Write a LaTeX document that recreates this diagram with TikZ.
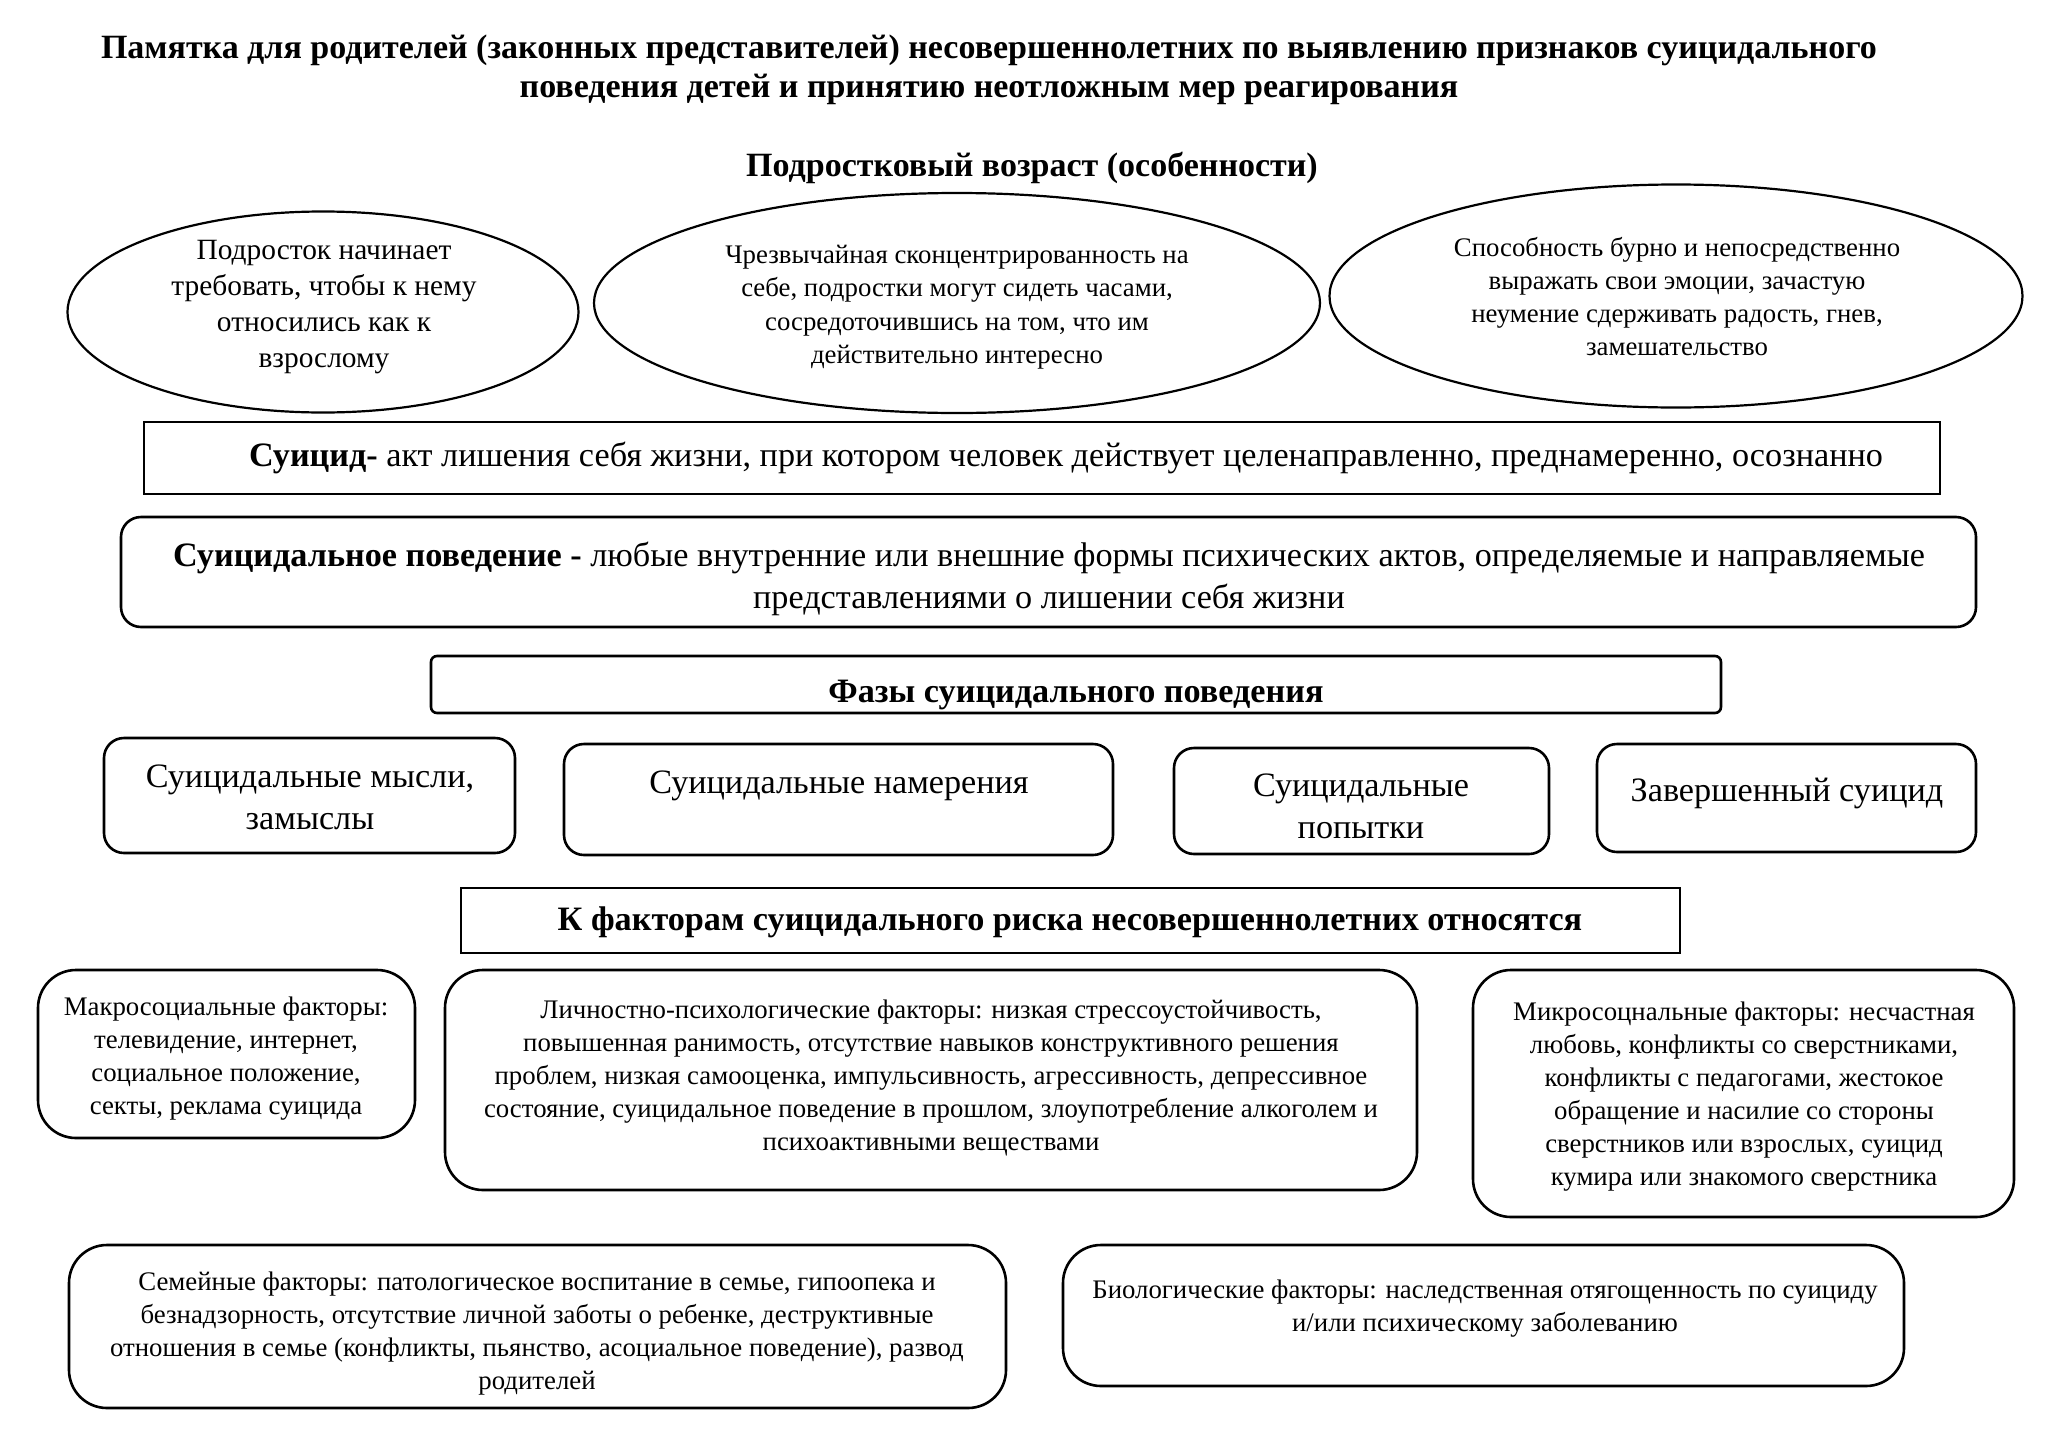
\documentclass[tikz,border=0pt]{standalone}
\usepackage{fontspec}
\setmainfont{Liberation Serif}
\usetikzlibrary{shapes.geometric}
\begin{document}
\begin{tikzpicture}[x=1pt,y=-1pt,
  every node/.style={inner sep=0pt, outer sep=0pt},
  txt/.style={align=center},
  ttl/.style={align=center, font=\fontsize{34}{39}\selectfont\bfseries},
  ell/.style={draw, ellipse, line width=2.2pt},
  sbox/.style={draw, line width=2.6pt},
  rbox/.style={draw, line width=2.6pt, rounded corners=20pt},
  fbox/.style={draw, line width=2.6pt, rounded corners=38pt},
  big/.style={align=center, font=\fontsize{34.2}{42}\selectfont},
  bigb/.style={align=center, font=\fontsize{34.2}{42}\selectfont\bfseries},
  mid/.style={align=center, font=\fontsize{26.8}{33}\selectfont},
]
\useasboundingbox (0,0) rectangle (2048,1448);
\fill[white] (0,0) rectangle (2048,1448);

% Title
\node[ttl] (title) at (989,70) {Памятка для родителей (законных представителей) несовершеннолетних по выявлению признаков суицидального\\поведения детей и принятию неотложным мер реагирования};
\node[ttl] (age) at (1032,168) {Подростковый возраст (особенности)};

% Ellipses
\node[ell, minimum width=511pt, minimum height=201pt] (e1) at (323,312) {};
\node[ell, minimum width=726pt, minimum height=220pt] (e2) at (957,303) {};
\node[ell, minimum width=693pt, minimum height=223pt] (e3) at (1676,296) {};
\node[txt, font=\fontsize{29.4}{36}\selectfont] (e1t) at (324,307) {Подросток начинает\\требовать, чтобы к нему\\относились как к\\взрослому};
\node[txt, font=\fontsize{26.8}{33.5}\selectfont] (e2t) at (957,307) {Чрезвычайная сконцентрированность на\\себе, подростки могут сидеть часами,\\сосредоточившись на том, что им\\действительно интересно};
\node[txt, font=\fontsize{26.8}{33}\selectfont] (e3t) at (1677,297) {Способность бурно и непосредственно\\выражать свои эмоции, зачастую\\неумение сдерживать радость, гнев,\\замешательство};

% Definitions
\node[sbox, minimum width=1796pt, minimum height=72pt] (suic) at (1042,458) {};
\node[big] (suict) at (1066,458) {\textbf{Суицид-} акт лишения себя жизни, при котором человек действует целенаправленно, преднамеренно, осознанно};
\node[rbox, minimum width=1855pt, minimum height=110pt] (beh) at (1048.5,572) {};
\node[big] (beht) at (1049,579) {\textbf{Суицидальное поведение -} любые внутренние или внешние формы психических актов, определяемые и направляемые\\представлениями о лишении себя жизни};

% Phases
\node[sbox, rounded corners=6pt, minimum width=1290pt, minimum height=57pt] (ph) at (1076,684.5) {};
\node[bigb] (pht) at (1076,695) {Фазы суицидального поведения};

\node[rbox, minimum width=411pt, minimum height=115pt] (p1) at (309.5,795.5) {};
\node[rbox, minimum width=549pt, minimum height=111pt] (p2) at (838.5,799.5) {};
\node[rbox, minimum width=375pt, minimum height=106pt] (p3) at (1361.5,801) {};
\node[rbox, minimum width=379pt, minimum height=108pt] (p4) at (1786.5,798) {};
\node[big] (p1t) at (310,797) {Суицидальные мысли,\\замыслы};
\node[big] (p2t) at (839,786) {Суицидальные намерения};
\node[big] (p3t) at (1361,806) {Суицидальные\\попытки};
\node[big] (p4t) at (1787,793) {Завершенный суицид};

% Risk factors
\node[sbox, minimum width=1219pt, minimum height=65pt] (rf) at (1070.5,920.5) {};
\node[bigb] (rft) at (1070,922) {К факторам суицидального риска несовершеннолетних относятся};

\node[fbox, minimum width=377pt, minimum height=168pt] (f1) at (226.5,1054) {};
\node[fbox, minimum width=972pt, minimum height=220pt] (f2) at (931,1080) {};
\node[fbox, minimum width=541pt, minimum height=247pt] (f3) at (1743.5,1093.5) {};
\node[fbox, minimum width=937pt, minimum height=163pt] (f4) at (537.5,1326.5) {};
\node[fbox, minimum width=841pt, minimum height=141pt] (f5) at (1483.5,1315.5) {};

\node[mid] (f1t) at (226,1059) {Макросоциальные факторы:\\телевидение, интернет,\\социальное положение,\\секты, реклама суицида};
\node[mid] (f2t) at (931,1078) {Личностно-психологические факторы: низкая стрессоустойчивость,\\повышенная ранимость, отсутствие навыков конструктивного решения\\проблем, низкая самооценка, импульсивность, агрессивность, депрессивное\\состояние, суицидальное поведение в прошлом, злоупотребление алкоголем и\\психоактивными веществами};
\node[mid] (f3t) at (1744,1097) {Микросоцнальные факторы: несчастная\\любовь, конфликты со сверстниками,\\конфликты с педагогами, жестокое\\обращение и насилие со стороны\\сверстников или взрослых, суицид\\кумира или знакомого сверстника};
\node[mid] (f4t) at (537,1334) {Семейные факторы: патологическое воспитание в семье, гипоопека и\\безнадзорность, отсутствие личной заботы о ребенке, деструктивные\\отношения в семье (конфликты, пьянство, асоциальное поведение), развод\\родителей};
\node[mid] (f5t) at (1485,1309) {Биологические факторы: наследственная отягощенность по суициду\\и/или психическому заболеванию};
\end{tikzpicture}
\end{document}
